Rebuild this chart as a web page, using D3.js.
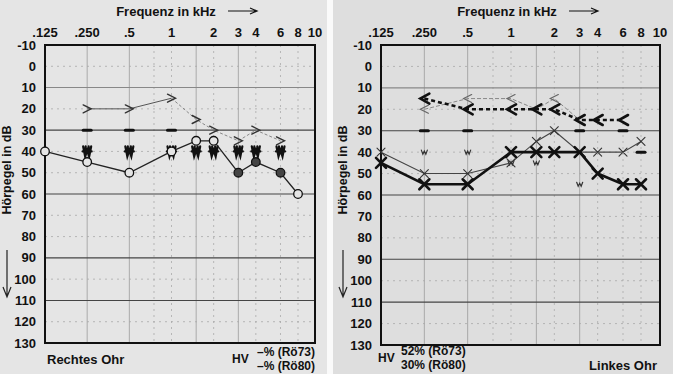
<!DOCTYPE html>
<html>
<head>
<meta charset="utf-8">
<script src="https://cdn.jsdelivr.net/npm/d3@7"></script>
<style>
  body { margin: 0; background: #e4e4e4; }
  svg { display: block; font-family: "Liberation Sans", Arial, sans-serif; }
  .lbl { font-weight: bold; fill: #111; }
</style>
</head>
<body>
<div id="chart"></div>
<script>
// axis ticks
const freqTicks = [125, 250, 500, 1000, 2000, 3000, 4000, 6000, 8000, 10000];
const freqLabels = [".125", ".250", ".5", "1", "2", "3", "4", "6", "8", "10"];
const dbTicks = [-10, 0, 10, 20, 30, 40, 50, 60, 70, 80, 90, 100, 110, 120, 130];
const gridSolidFreqs = [250, 500, 1500, 3000];
const gridDotFreqs = [750, 1000, 2000, 4000, 6000, 8000];
const gridSolidDb = [10, 30, 60, 90, 110];

// Rechtes Ohr (left panel)
const rAirFreqs = [125, 250, 500, 1000, 1500, 2000, 3000, 4000, 6000, 8000];
const rAir = [40, 45, 50, 40, 35, 35, 50, 45, 50, 60];
const rAirMarked = [3000, 4000, 6000];
const rBoneFreqs = [250, 500, 1000, 1500, 2000, 3000, 4000, 6000];
const rBone = [20, 20, 15, 25, 30, 35, 30, 35];
const rDashFreqs = [250, 500, 1000];
const rDash = [30, 30, 30];
const rWFreqs = [250, 500, 1000, 1500, 2000, 3000, 4000, 6000];
const rW = [40, 40, 40, 40, 40, 40, 40, 40];

// Linkes Ohr (right panel)
const lAirFreqs = [125, 250, 500, 1000, 1500, 2000, 3000, 4000, 6000, 8000];
const lAirThick = [45, 55, 55, 40, 40, 40, 40, 50, 55, 55];
const lAirThin = [40, 50, 50, 45, 35, 30, 40, 40, 40, 35];
const lBoneThickFreqs = [250, 500, 1000, 1500, 2000, 3000, 4000, 6000];
const lBoneThick = [15, 20, 20, 20, 20, 25, 25, 25];
const lBoneThinFreqs = [250, 500, 1000, 1500, 2000, 3000];
const lBoneThin = [20, 15, 15, 20, 15, 25];
const lDashFreqs = [250, 500, 3000, 6000, 8000];
const lDash = [30, 30, 30, 30, 40];
const lWFreqs = [250, 500, 1000, 1500, 3000];
const lW = [40, 40, 45, 45, 55];

const W = 673, H = 374;
const svg = d3.select("#chart").append("svg").attr("width", W).attr("height", H);

svg.append("rect").attr("width", W).attr("height", H).attr("fill", "#e5e5e5");
svg.append("rect").attr("x", 331).attr("width", W - 331).attr("height", H).attr("fill", "#dedede");
svg.append("rect").attr("x", 327).attr("width", 6).attr("height", H).attr("fill", "#fafafa");

const pts = (fs, vs) => fs.map((f, i) => ({f: f, v: vs[i]}));

function panel(c) {
    const g = svg.append("g");
    const x = d3.scaleLog().domain([125, 8000, 10000]).range([c.x0, c.x8, c.x1]);
    const y = d3.scaleLinear().domain([-10, 130]).range([45, c.yb]);

    // grid
    g.selectAll(".gv").data(gridSolidFreqs.concat(gridDotFreqs)).join("line")
        .attr("x1", d => x(d)).attr("x2", d => x(d)).attr("y1", y(-10)).attr("y2", y(130))
        .attr("stroke", d => gridSolidFreqs.includes(d) ? "#9a9a9a" : "#aaa")
        .attr("stroke-width", 0.8)
        .attr("stroke-dasharray", d => gridSolidFreqs.includes(d) ? null : "2,4");
    g.selectAll(".gh").data(dbTicks.slice(1, -1)).join("line")
        .attr("x1", c.x0).attr("x2", c.x1).attr("y1", d => y(d)).attr("y2", d => y(d))
        .attr("stroke", d => d === 10 ? "#888" : gridSolidDb.includes(d) ? "#444" : "#aaa")
        .attr("stroke-width", d => gridSolidDb.includes(d) ? 1.1 : 0.8)
        .attr("stroke-dasharray", d => gridSolidDb.includes(d) ? null : "2,4");
    g.append("rect").attr("x", c.x0).attr("y", y(-10))
        .attr("width", c.x1 - c.x0).attr("height", y(130) - y(-10))
        .attr("fill", "none").attr("stroke", "#111").attr("stroke-width", 2);

    // axes labels
    g.selectAll(".fx").data(freqTicks).join("text").attr("class", "lbl")
        .attr("x", d => x(d)).attr("y", 37).attr("text-anchor", "middle")
        .attr("font-size", 13).text((d, i) => freqLabels[i]);
    g.selectAll(".dy").data(dbTicks).join("text").attr("class", "lbl")
        .attr("x", c.x0 - 9).attr("y", d => y(d) + 4.5).attr("text-anchor", "end")
        .attr("font-size", 13).text(d => d);
    g.append("text").attr("class", "lbl").attr("x", c.titleX).attr("y", 16)
        .attr("text-anchor", "middle").attr("font-size", 13).text("Frequenz in kHz");
    g.append("path")
        .attr("d", `M${c.titleX + 62},11H${c.titleX + 90}M${c.titleX + 84},8L${c.titleX + 91},11L${c.titleX + 84},14`)
        .attr("fill", "none").attr("stroke", "#111").attr("stroke-width", 1.2);
    g.append("text").attr("class", "lbl").attr("font-size", 12.5)
        .attr("transform", `translate(${c.yTitleX},170) rotate(-90)`)
        .attr("text-anchor", "middle").text("Hörpegel in dB");
    g.append("path")
        .attr("d", `M${c.yTitleX - 4},250V296M${c.yTitleX - 8},287L${c.yTitleX - 4},297L${c.yTitleX},287`)
        .attr("fill", "none").attr("stroke", "#222").attr("stroke-width", 1.2);

    return {g: g, x: x, y: y};
}

const line = (p) => d3.line().x(d => p.x(d.f)).y(d => p.y(d.v));

function marks(p, data, d, stroke, sw) {
    p.g.append("g").selectAll("path").data(data).join("path")
        .attr("transform", e => `translate(${p.x(e.f)},${p.y(e.v)})`)
        .attr("d", d).attr("fill", "none").attr("stroke", stroke)
        .attr("stroke-width", sw).attr("stroke-linecap", "round");
}

// ---------- left panel: Rechtes Ohr ----------
const pr = panel({x0: 45, x8: 298, x1: 315, yb: 343, titleX: 166, yTitleX: 11});

const rb = pts(rBoneFreqs, rBone);
pr.g.append("path").datum(rb.filter(d => d.f <= 1000)).attr("d", line(pr))
    .attr("fill", "none").attr("stroke", "#555").attr("stroke-width", 1);
pr.g.append("path").datum(rb.filter(d => d.f >= 1000)).attr("d", line(pr))
    .attr("fill", "none").attr("stroke", "#888").attr("stroke-width", 1).attr("stroke-dasharray", "3,2");
marks(pr, rb, "M-4,-4L4,0L-4,4", "#333", 1.4);

marks(pr, pts(rDashFreqs, rDash), "M-4,0H4", "#111", 3);
marks(pr, pts(rWFreqs, rW), "M-4,-5L-2,5L0,-1L2,5L4,-5M-4.5,0H4.5M-1.5,-5V0M1.5,-5V0", "#111", 2.2);

const ra = pts(rAirFreqs, rAir);
pr.g.append("path").datum(ra).attr("d", line(pr))
    .attr("fill", "none").attr("stroke", "#222").attr("stroke-width", 1.3);
pr.g.append("g").selectAll("circle").data(ra).join("circle")
    .attr("cx", d => pr.x(d.f)).attr("cy", d => pr.y(d.v)).attr("r", 4.3)
    .attr("fill", d => rAirMarked.includes(d.f) ? "#444" : "#e5e5e5")
    .attr("stroke", "#111").attr("stroke-width", 1.3);

svg.append("text").attr("class", "lbl").attr("x", 47).attr("y", 364).attr("font-size", 13).text("Rechtes Ohr");
svg.append("text").attr("class", "lbl").attr("x", 232).attr("y", 363).attr("font-size", 12).text("HV");
svg.append("text").attr("class", "lbl").attr("x", 257).attr("y", 356).attr("font-size", 12).text("–% (Rö73)");
svg.append("text").attr("class", "lbl").attr("x", 257).attr("y", 370).attr("font-size", 12).text("–% (Rö80)");

// ---------- right panel: Linkes Ohr ----------
const pl = panel({x0: 381, x8: 641, x1: 660, yb: 345, titleX: 507, yTitleX: 347});

const lbt = pts(lBoneThinFreqs, lBoneThin);
pl.g.append("path").datum(lbt).attr("d", line(pl))
    .attr("fill", "none").attr("stroke", "#888").attr("stroke-width", 1).attr("stroke-dasharray", "4,2");
marks(pl, lbt, "M4,-4L-4,0L4,4", "#666", 1.2);

const lbk = pts(lBoneThickFreqs, lBoneThick);
pl.g.append("path").datum(lbk).attr("d", line(pl))
    .attr("fill", "none").attr("stroke", "#111").attr("stroke-width", 2.6).attr("stroke-dasharray", "4,3");
marks(pl, lbk, "M5,-5L-4,0L5,5", "#111", 2.6);

marks(pl, pts(lDashFreqs, lDash), "M-4,0H4", "#111", 3);
marks(pl, pts(lWFreqs, lW), "M-3,-2L-1.5,2L0,-1L1.5,2L3,-2", "#333", 1.2);

const lat = pts(lAirFreqs, lAirThin);
pl.g.append("path").datum(lat).attr("d", line(pl))
    .attr("fill", "none").attr("stroke", "#444").attr("stroke-width", 1.1);
marks(pl, lat, "M-4,-4L4,4M-4,4L4,-4", "#333", 1.1);

const lak = pts(lAirFreqs, lAirThick);
pl.g.append("path").datum(lak).attr("d", line(pl))
    .attr("fill", "none").attr("stroke", "#111").attr("stroke-width", 2.6);
marks(pl, lak, "M-5,-5L5,5M-5,5L5,-5", "#111", 2.6);

svg.append("text").attr("class", "lbl").attr("x", 378).attr("y", 362).attr("font-size", 12).text("HV");
svg.append("text").attr("class", "lbl").attr("x", 401).attr("y", 355).attr("font-size", 12).text("52% (Rö73)");
svg.append("text").attr("class", "lbl").attr("x", 401).attr("y", 369).attr("font-size", 12).text("30% (Rö80)");
svg.append("text").attr("class", "lbl").attr("x", 657).attr("y", 370).attr("font-size", 13)
    .attr("text-anchor", "end").text("Linkes Ohr");
</script>
</body>
</html>
